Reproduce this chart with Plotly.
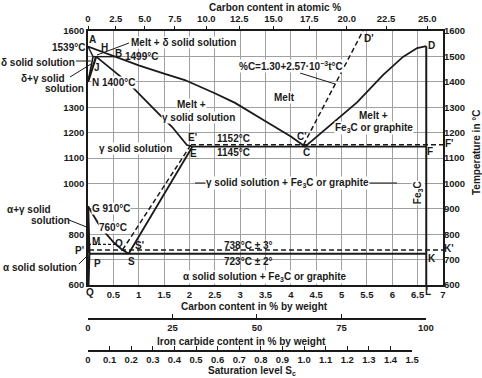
import plotly.graph_objects as go

# ---------------- data (wt% C , temperature °C) ----------------
liq_wt = [0, 0.53, 1.0, 1.5, 1.91, 2.5, 2.9, 3.5, 4.0, 4.28, 4.77, 5.31, 5.82, 6.21, 6.49, 6.67]
liq_t = [1539, 1499, 1465, 1432, 1407, 1355, 1317, 1245, 1185, 1145, 1230, 1320, 1427, 1498, 1533, 1540]
ah_wt, ah_t = [0, 0.10], [1539, 1499]
hb_wt, hb_t = [0.10, 0.53], [1499, 1499]
hn_wt, hn_t = [0.10, 0], [1499, 1400]
jn_wt, jn_t = [0.16, 0], [1499, 1400]
je_wt = [0.16, 0.8, 1.42, 1.66, 1.95, 2.06]
je_t = [1499, 1395, 1269, 1222, 1151, 1145]
ecf_wt, ecf_t = [2.06, 6.67], [1145, 1145]
ecf2_wt, ecf2_t = [2.03, 7.0], [1152, 1152]
se_wt, se_t = [0.8, 2.06], [723, 1145]
se2_wt, se2_t = [0.68, 2.03], [738, 1152]
cd2_wt, cd2_t = [4.25, 5.42], [1152, 1600]
gos_wt = [0, 0.1, 0.2, 0.3, 0.4, 0.5, 0.55, 0.65, 0.8]
gos_t = [910, 874, 843, 815, 790, 769, 760, 743, 723]
gp_wt, gp_t = [0, 0.015, 0.025], [910, 820, 723]
pq_wt, pq_t = [0.025, 0.008], [723, 600]
psk_wt, psk_t = [0.025, 6.67], [723, 723]
psk2_wt, psk2_t = [0.02, 7.0], [738, 738]
mo_wt, mo_t = [0, 0.55], [760, 760]
dl_wt, dl_t = [6.67, 6.67], [1540, 600]

wt_ticks = [0.5, 1, 1.5, 2, 2.5, 3, 3.5, 4, 4.5, 5, 5.5, 6, 6.5, 7]
wt_labels = ["0.5", "1", "1.5", "2", "2.5", "3", "3.5", "4", "4.5", "5", "5.5", "6", "6.5", "7"]
at_ticks = [0, 2.5, 5, 7.5, 10, 12.5, 15, 17.5, 20, 22.5, 25]
at_labels = ["0", "2.5", "5.0", "7.5", "10.0", "12.5", "15.0", "17.5", "20.0", "22.5", "25.0"]
temp_ticks = [600, 700, 800, 900, 1000, 1100, 1200, 1300, 1400, 1500, 1600]
left_labels = ["600", "", "800", "", "1000", "1100", "1200", "1300", "", "", "1600"]
fe3c_ticks = [0, 25, 50, 75, 100]
sat_ticks = [0, 0.1, 0.2, 0.3, 0.4, 0.5, 0.6, 0.7, 0.8, 0.9, 1.0, 1.1, 1.2, 1.3, 1.4, 1.5]
sat_labels = ["0", "0.1", "0.2", "0.3", "0.4", "0.5", "0.6", "0.7", "0.8", "0.9", "1.0",
              "1.1", "1.2", "1.3", "1.4", "1.5"]

# atomic % -> wt % (axis position conversion)
at_pos = [100 * 12.011 * a / (12.011 * a + 55.845 * (100 - a)) for a in at_ticks]

FONT = "Liberation Sans, Arial, sans-serif"
INK = "#1a1a1a"
W, H = 482, 378
L, R, T = 88, 443, 31


def pp(xpx, ypx):
    return (xpx - L) / (R - L), (H - ypx) / (H - T)


fig = go.Figure()


def line(xs, ys, dash=None, w=1.8):
    fig.add_trace(go.Scatter(x=xs, y=ys, mode="lines", hoverinfo="skip", showlegend=False,
                             line=dict(color=INK, width=w, dash=dash or "solid")))


DASH = "5px,3px"
line(liq_wt, liq_t)
line(ah_wt, ah_t, w=1.4)
line(hb_wt, hb_t, w=1.4)
line(hn_wt, hn_t, w=1.6)
line(jn_wt, jn_t, w=2.2)
line(je_wt, je_t)
line(ecf_wt, ecf_t)
line(ecf2_wt, ecf2_t, DASH, 1.5)
line(se_wt, se_t)
line(se2_wt, se2_t, DASH, 1.5)
line(cd2_wt, cd2_t, DASH, 1.5)
line(gos_wt, gos_t)
line(gp_wt, gp_t, w=2.4)
line(pq_wt, pq_t, w=2.2)
line(psk_wt, psk_t)
line(psk2_wt, psk2_t, DASH, 1.5)
line(mo_wt, mo_t, "3px,2px", 1.2)
line(dl_wt, dl_t, w=2.0)

# dummy traces to activate the extra axes
fig.add_trace(go.Scatter(x=[None], y=[None], xaxis="x2", yaxis="y2", showlegend=False))
fig.add_trace(go.Scatter(x=[None], y=[None], xaxis="x3", yaxis="y3", showlegend=False))
fig.add_trace(go.Scatter(x=[None], y=[None], xaxis="x4", yaxis="y4", showlegend=False))

tf = dict(family=FONT, size=10, color=INK, weight="bold")
tk = dict(family=FONT, size=9.5, color=INK, weight="bold")
main_dom_bottom = (H - 285) / (H - T)
fe3c_pos = (H - 318) / (H - T)
sat_pos = (H - 350) / (H - T)
common = dict(automargin=False, zeroline=False)

fig.update_layout(
    template="none",
    width=W, height=H, margin=dict(l=L, r=W - R, t=T, b=0, pad=0, autoexpand=False),
    paper_bgcolor="white", plot_bgcolor="white", showlegend=False,
    font=tf,
    xaxis=dict(range=[0, 7], domain=[0, 1], anchor="y", tickvals=wt_ticks, ticktext=wt_labels,
               showgrid=True, gridcolor="#a0a0a0", gridwidth=1,
               showline=True, mirror=True, linecolor=INK, linewidth=1.5, ticks="",
               tickfont=tk, **common),
    yaxis=dict(range=[600, 1600], domain=[main_dom_bottom, 1], anchor="x", tickvals=temp_ticks,
               ticktext=left_labels, showgrid=True, gridcolor="#a0a0a0", gridwidth=1,
               showline=True, mirror=True, linecolor=INK, linewidth=1.5,
               ticks="", tickfont=tk, **common),
    xaxis2=dict(range=[0, 7], overlaying="x", side="top", anchor="y", tickvals=at_pos,
                ticktext=at_labels, ticks="outside", ticklen=4, tickcolor=INK,
                showgrid=False, showline=False, tickfont=tk, **common),
    yaxis2=dict(range=[600, 1600], overlaying="y", side="right", anchor="x", tickvals=temp_ticks,
                showgrid=False, showline=False, ticks="", tickfont=tk, **common),
    xaxis3=dict(range=[0, 100], domain=[0, 0.952], anchor="y3", tickvals=fe3c_ticks,
                ticks="inside", ticklen=4, tickcolor=INK, showline=True, linecolor=INK,
                linewidth=1.5, showgrid=False, tickfont=tk, **common),
    yaxis3=dict(domain=[fe3c_pos, fe3c_pos + 0.003], anchor="x3", visible=False),
    xaxis4=dict(range=[0, 1.5], domain=[0, 0.913], anchor="y4", tickvals=sat_ticks,
                ticktext=sat_labels, ticks="inside", ticklen=4, tickcolor=INK, showline=True,
                linecolor=INK, linewidth=1.5, showgrid=False, tickfont=tk, **common),
    yaxis4=dict(domain=[sat_pos, sat_pos + 0.003], anchor="x4", visible=False),
)


def ann(text, x, y, xanchor="center", bg=None, angle=0, paper=False):
    if paper:
        px, py = pp(x, y)
        d = dict(x=px, y=py, xref="paper", yref="paper")
    else:
        d = dict(x=x, y=y, xref="x", yref="y")
    d.update(text=text, showarrow=False, xanchor=xanchor, yanchor="middle", font=tf,
             textangle=angle, borderpad=0)
    if bg:
        d["bgcolor"] = bg
    fig.add_annotation(**d)


# titles
ann("Carbon content in atomic %", 275, 8, paper=True)
ann("Carbon content in % by weight", 254, 306, paper=True)
ann("Iron carbide content in % by weight", 241, 341, paper=True)
ann("Saturation level S<sub>c</sub>", 252, 371, paper=True)
ann("Temperature in °C", 476, 152, angle=-90, paper=True)

# labels outside the plot
ann("1539°C", 86, 47, xanchor="right", paper=True)
ann("δ solid solution", 76, 62, xanchor="right", paper=True)
ann("δ+γ solid", 43, 78, paper=True)
ann("solution", 64, 88, paper=True)
ann("α+γ solid", 29, 210, paper=True)
ann("solution", 50, 220, paper=True)
ann("P'", 79, 250, paper=True)
ann("α solid solution", 40, 267, paper=True)
ann("Q", 90, 292, paper=True)
ann("L", 428, 291, paper=True)
ann("F'", 449, 143, paper=True)
ann("K'", 449, 248, paper=True)

# labels inside the plot
W_ = "white"
ann("A", 0.08, 1565)
ann("H", 0.32, 1537)
ann("B", 0.61, 1513)
ann("1499°C", 1.06, 1498)
ann("Melt + δ solid solution", 0.83, 1553, xanchor="left", bg=W_)
ann("J", 0.18, 1458)
ann("N 1400°C", 0.06, 1399, xanchor="left", bg=W_)
ann("%C=1.30+2.57·10<sup>−3</sup>t°C", 4.0, 1462, bg=W_)
ann("Melt", 3.88, 1340, bg=W_)
ann("Melt +", 2.05, 1309, bg=W_)
ann("γ solid solution", 2.17, 1261, bg=W_)
ann("E'", 2.07, 1179)
ann("E", 2.09, 1116)
ann("1152°C", 2.86, 1175)
ann("1145°C", 2.86, 1120)
ann("C'", 4.22, 1183)
ann("C", 4.30, 1120)
ann("Melt +", 5.62, 1269, bg=W_)
ann("Fe<sub>3</sub>C or graphite", 5.64, 1218, bg=W_)
ann("D'", 5.54, 1572)
ann("D", 6.78, 1541)
ann("F", 6.74, 1124)
ann("γ solid solution", 0.93, 1139, bg=W_)
ann("γ solid solution + Fe<sub>3</sub>C or graphite", 3.94, 1002, bg=W_)
ann("Fe<sub>3</sub>C", 6.51, 962, angle=-90, bg=W_)
ann("G 910°C", 0.45, 903, bg=W_)
ann("760°C", 0.49, 828, bg=W_)
ann("M", 0.16, 773)
ann("O", 0.61, 765)
ann("S'", 1.01, 754)
ann("S", 0.85, 694)
ann("P", 0.18, 683)
ann("738°C ± 3°", 3.16, 757)
ann("723°C ± 2°", 3.16, 691)
ann("K", 6.78, 706)
ann("α solid solution + Fe<sub>3</sub>C or graphite", 3.49, 631, bg=W_)

# leader lines (paper coordinates, may extend outside the plot)
leaders = [((76, 61), (91, 61)), ((70, 77), (91, 64)), ((69, 220), (89, 228)),
           ((79, 264), (87, 256)), ((97, 55), (129, 43)), ((300, 73), (335, 84)),
           ((195, 183), (206, 183)), ((369, 183), (397, 183)), ((427, 285), (427, 290))]
for (a, b) in leaders:
    x0, y0 = pp(*a)
    x1, y1 = pp(*b)
    fig.add_shape(type="line", xref="paper", yref="paper", x0=x0, y0=y0, x1=x1, y1=y1,
                  line=dict(color=INK, width=1))

fig.write_html("out.html")
